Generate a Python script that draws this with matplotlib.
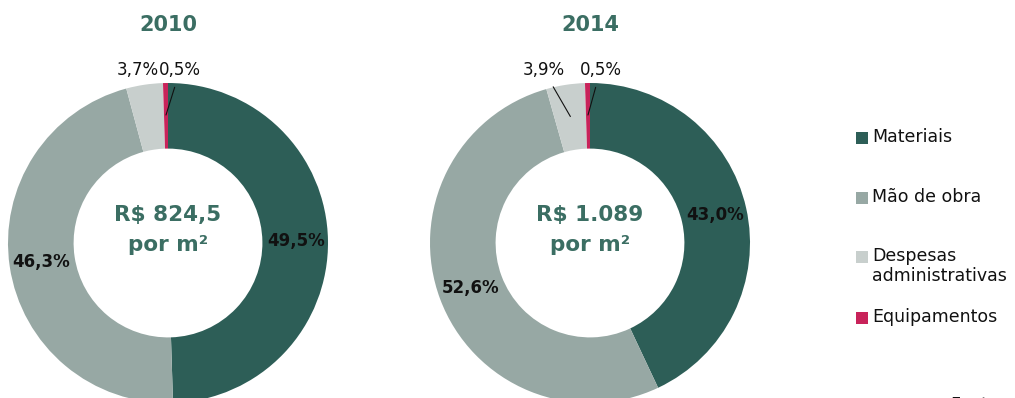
import matplotlib.pyplot as plt
from matplotlib.patches import Rectangle
import numpy as np

# cost breakdown per m2, 2010 vs 2014
categories = ['Materiais', 'Mão de obra', 'Despesas\nadministrativas', 'Equipamentos']
colors = ['#2d5e57', '#97a8a4', '#c8cfcd', '#c8235a']
years = ['2010', '2014']
shares_2010 = [49.5, 46.3, 3.7, 0.5]
shares_2014 = [43.0, 52.6, 3.9, 0.5]
totals = ['R$ 824,5', 'R$ 1.089']

W, H = 1015, 398
fig = plt.figure(figsize=(W / 100, H / 100), dpi=100)
fig.patch.set_facecolor('white')

TEAL = '#3b6e63'
R_PX = 160
centers = [(168, 243), (590, 243)]

# where the small-slice labels sit (data units, ring radius = 1), and whether they get a leader line
small_pos = {
    '2010': [(-0.19, 1.08, False), (0.075, 1.08, True)],
    '2014': [(-0.29, 1.08, True), (0.065, 1.08, True)],
}


def fmt(v):
    return f'{v:.1f}'.replace('.', ',') + '%'


for year, shares, total, (cx, cy) in zip(years, [shares_2010, shares_2014], totals, centers):
    ax = fig.add_axes([(cx - R_PX) / W, (H - cy - R_PX) / H, 2 * R_PX / W, 2 * R_PX / H])
    wedges, _ = ax.pie(shares, colors=colors, startangle=90, counterclock=False,
                       radius=1.0, wedgeprops=dict(width=0.41, linewidth=0))
    ax.set_xlim(-1, 1)
    ax.set_ylim(-1, 1)
    ax.set_aspect('equal')
    ax.axis('off')

    ax.text(0, 1.36, year, ha='center', va='center', fontsize=15,
            fontweight='bold', color=TEAL, clip_on=False)
    ax.text(0, 0.175, total, ha='center', va='center', fontsize=15.5,
            fontweight='bold', color=TEAL)
    ax.text(0, -0.01, 'por m²', ha='center', va='center', fontsize=15.5,
            fontweight='bold', color=TEAL)

    for i, (w, v) in enumerate(zip(wedges, shares)):
        mid = np.deg2rad((w.theta1 + w.theta2) / 2)
        px, py = 0.8 * np.cos(mid), 0.8 * np.sin(mid)
        if v > 10:
            ax.text(px, py, fmt(v), ha='center', va='center', fontsize=12,
                    fontweight='bold', color='#111111')
        else:
            tx, ty, line = small_pos[year][i - 2]
            arrow = dict(arrowstyle='-', lw=0.8, color='#111111', shrinkA=4, shrinkB=0) if line else None
            ax.annotate(fmt(v), xy=(px, py), xytext=(tx, ty), ha='center', va='center',
                        fontsize=12, color='#111111', annotation_clip=False, arrowprops=arrow)

# legend drawn by hand so the square lines up with the first text line
leg_rows = [138, 198, 257, 318]
for label, col, y in zip(categories, colors, leg_rows):
    fig.add_artist(Rectangle((856 / W, (H - y - 6) / H), 12 / W, 12 / H,
                             transform=fig.transFigure, facecolor=col, edgecolor='none'))
    fig.text(872 / W, (H - y + 10) / H, label, ha='left', va='top',
             fontsize=12.5, color='#111111', linespacing=1.15)

# source note, running off the bottom edge
fig.text(950 / W, 2 / H, 'Fonte:', ha='left', va='top', fontsize=12.5, color='#111111')

fig.savefig('out.png', dpi=100, facecolor='white')
